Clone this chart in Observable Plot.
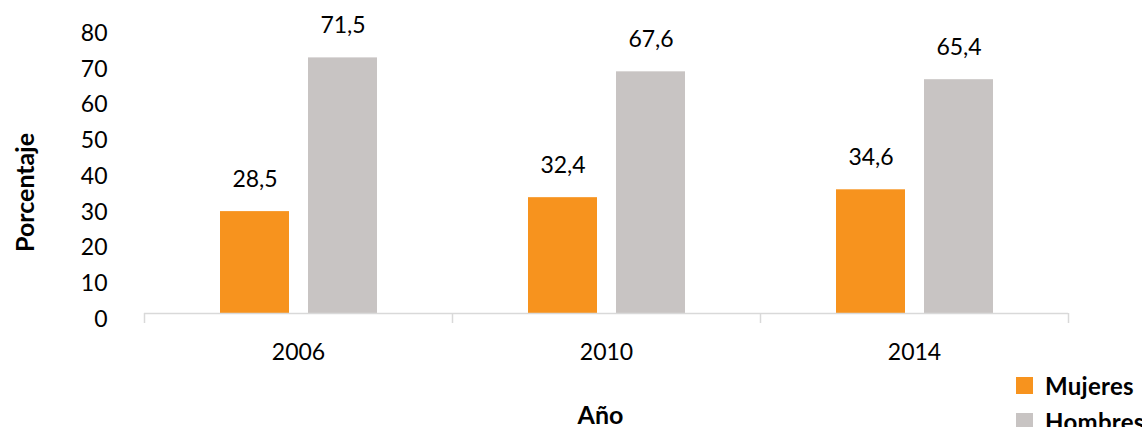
<!DOCTYPE html>
<html>
<head>
<meta charset="utf-8">
<script src="https://cdn.jsdelivr.net/npm/d3@7"></script>
<script src="https://cdn.jsdelivr.net/npm/@observablehq/plot@0.6"></script>
<style>
  html, body { margin: 0; padding: 0; background: #fff; overflow: hidden; }
  #wrap { position: relative; width: 1142px; height: 427px; font-family: Lato, "Open Sans", sans-serif; }
  #legend { position: absolute; left: 1016px; top: 377px; font-weight: bold; font-size: 24px; letter-spacing: 0.3px; color: #000; }
  .item { display: flex; align-items: center; height: 17px; margin-bottom: 19px; }
  .sw { width: 17px; height: 17px; margin-right: 12px; flex: none; }
</style>
</head>
<body>
<div id="wrap"></div>
<script>
const years = ["2006", "2010", "2014"];
const series = ["Mujeres", "Hombres"];
const mujeres = [28.5, 32.4, 34.6];
const hombres = [71.5, 67.6, 65.4];
const colors = ["#F7931E", "#C8C4C3"];
const yTicks = [0, 10, 20, 30, 40, 50, 60, 70, 80];
const yLabel = "Porcentaje";
const xLabel = "Año";

const rowsM = years.map((y, i) => ({year: y, sex: series[0], value: mujeres[i]}));
const rowsH = years.map((y, i) => ({year: y, sex: series[1], value: hombres[i]}));
const fmt = d => d.value.toFixed(1).replace(".", ",");

const chart = Plot.plot({
  width: 1142,
  height: 427,
  marginLeft: 144,
  marginRight: 74,
  marginTop: 27,
  marginBottom: 114,
  style: {fontFamily: "Lato, 'Open Sans', sans-serif", fontSize: "23px", color: "#000", background: "transparent"},
  x: {domain: years, padding: 0, label: null},
  y: {domain: [0, 80], label: null},
  marks: [
    Plot.barY(rowsM, {x: "year", y: "value", fill: colors[0], insetLeft: 76, insetRight: 163}),
    Plot.barY(rowsH, {x: "year", y: "value", fill: colors[1], insetLeft: 164, insetRight: 75}),
    Plot.text(rowsM, {x: "year", y: "value", text: fmt, dx: -43.5, dy: -32, fill: "#000", fontSize: 23}),
    Plot.text(rowsH, {x: "year", y: "value", text: fmt, dx: 44.5, dy: -32, fill: "#000", fontSize: 23}),
    Plot.ruleY([0], {stroke: "#D9D9D9", strokeWidth: 1.5}),
    Plot.ruleX(years, {x: d => d, y1: 0, y2: -2.8, dx: -154, stroke: "#D9D9D9", strokeWidth: 1.5}),
    Plot.ruleX(years.slice(-1), {x: d => d, y1: 0, y2: -2.8, dx: 154, stroke: "#D9D9D9", strokeWidth: 1.5}),
    Plot.axisY({ticks: yTicks, tickSize: 0, tickPadding: 37, dy: 6, label: null, fontSize: 23}),
    Plot.axisX({tickSize: 0, tickPadding: 30, label: null, fontSize: 23}),
    Plot.text([yLabel], {frameAnchor: "left", textAnchor: "middle", lineAnchor: "middle", rotate: -90, dx: -119, dy: 22, fontWeight: "bold", fontSize: 25, fill: "#000"}),
    Plot.text([xLabel], {frameAnchor: "bottom", textAnchor: "middle", lineAnchor: "middle", dx: -6, dy: 102, fontWeight: "bold", fontSize: 25, fill: "#000"})
  ]
});

const wrap = document.getElementById("wrap");
wrap.appendChild(chart);

const legend = document.createElement("div");
legend.id = "legend";
series.forEach((s, i) => {
  const item = document.createElement("div");
  item.className = "item";
  const sw = document.createElement("span");
  sw.className = "sw";
  sw.style.background = colors[i];
  const t = document.createElement("span");
  t.textContent = s;
  item.appendChild(sw);
  item.appendChild(t);
  legend.appendChild(item);
});
wrap.appendChild(legend);
</script>
</body>
</html>
